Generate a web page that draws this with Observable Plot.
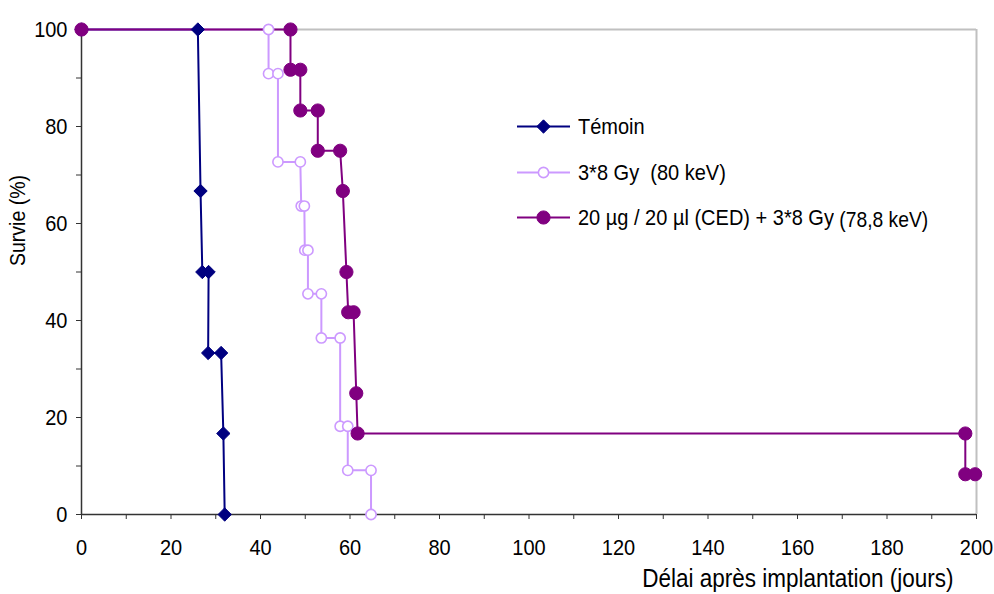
<!DOCTYPE html>
<html>
<head>
<meta charset="utf-8">
<script src="https://cdn.jsdelivr.net/npm/d3@7"></script>
<script src="https://cdn.jsdelivr.net/npm/@observablehq/plot@0.6"></script>
<style>
html, body { margin: 0; padding: 0; background: #fff; }
#wrap { position: relative; width: 994px; height: 594px; font-family: "Liberation Sans", Arial, sans-serif; }
#legend { position: absolute; left: 517px; top: 116px; }
.row { display: flex; align-items: center; height: 21px; margin-bottom: 24.5px; font-size: 20px; color: #000; white-space: pre; }
.row svg { flex: none; margin-right: 8px; }
.row span { display: inline-block; transform: scaleY(1.13); }
.small { font-size: 19.3px; position: relative; top: 2.5px; }
</style>
</head>
<body>
<div id="wrap"><div id="legend"></div></div>
<script>
// ---- data ----
const seriesNames = ["Témoin", "3*8 Gy  (80 keV)", "20 µg / 20 µl (CED) + 3*8 Gy"];
const seriesNameSuffix = ["", "", "(78,8 keV)"];

const temoinDays = [0, 26, 26.6, 27, 28.4, 28.3, 31.2, 31.7, 32];
const temoinSurv = [100, 100, 66.7, 50, 50, 33.3, 33.3, 16.7, 0];

const gyDays = [0, 41.8, 41.8, 43.9, 43.9, 48.9, 49.1, 49.8, 49.9, 50.6, 50.6, 53.6, 53.6, 57.8, 57.8, 59.5, 59.5, 64.7, 64.7];
const gySurv = [100, 100, 90.9, 90.9, 72.7, 72.7, 63.6, 63.6, 54.5, 54.5, 45.5, 45.5, 36.4, 36.4, 18.2, 18.2, 9.1, 9.1, 0];

const cedDays = [0, 46.7, 46.7, 48.9, 48.9, 52.8, 52.8, 57.8, 58.4, 59.2, 59.6, 60.8, 61.4, 61.7, 197.5, 197.5, 199.7];
const cedSurv = [100, 100, 91.7, 91.7, 83.3, 83.3, 75, 75, 66.7, 50, 41.7, 41.7, 25, 16.7, 16.7, 8.3, 8.3];

const xTicks = d3.range(0, 201, 10);
const yTicks = d3.range(0, 101, 10);
const xLabel = "Délai après implantation (jours)";
const yLabel = "Survie (%)";

// ---- styles ----
const colors = ["#000080", "#CC99FF", "#800080"];
const markerStyles = [
  {symbol: "diamond2", r: 6, fill: colors[0], stroke: colors[0], strokeWidth: 1},
  {symbol: "circle", r: 5.1, fill: "white", stroke: colors[1], strokeWidth: 1.6},
  {symbol: "circle", r: 6.6, fill: colors[2], stroke: colors[2], strokeWidth: 1}
];

const toRows = (days, surv) => days.map((d, i) => ({day: d, surv: surv[i]}));
const data = [toRows(temoinDays, temoinSurv), toRows(gyDays, gySurv), toRows(cedDays, cedSurv)];

const font = '"Liberation Sans", Arial, sans-serif';

const chart = Plot.plot({
  width: 994,
  height: 594,
  marginLeft: 81,
  marginRight: 18,
  marginTop: 29,
  marginBottom: 80,
  x: {domain: [0, 200]},
  y: {domain: [0, 100]},
  style: {fontFamily: font, fontSize: "20px", background: "white", overflow: "visible", color: "black"},
  marks: [
    Plot.ruleY([100], {stroke: "#c0c0c0", strokeWidth: 2}),
    Plot.ruleX([200], {stroke: "#c0c0c0", strokeWidth: 2}),
    Plot.axisX({ticks: xTicks, tickSize: 5, tickPadding: 19, tickFormat: d => d % 20 === 0 ? String(d) : "", label: null, stroke: "#333", fill: "black", fontSize: 20}),
    Plot.axisY({ticks: yTicks, tickSize: 5, tickPadding: 9, tickFormat: d => d % 20 === 0 ? String(d) : "", label: null, stroke: "#333", fill: "black", fontSize: 20}),
    Plot.ruleX([0], {stroke: "#333", strokeWidth: 1.5}),
    Plot.ruleY([0], {stroke: "#333", strokeWidth: 1.5}),
    ...data.map((d, i) => Plot.line(d, {x: "day", y: "surv", stroke: colors[i], strokeWidth: 2, curve: "linear"})),
    ...data.map((d, i) => Plot.dot(d, {x: "day", y: "surv", ...markerStyles[i]})),
    Plot.text([xLabel], {text: d => d, frameAnchor: "bottom-right", dx: -23, dy: 72, textAnchor: "end", lineAnchor: "bottom", fontSize: 22.5, fill: "black"}),
    Plot.text([yLabel], {text: d => d, frameAnchor: "left", dx: -64, dy: -6, rotate: -90, fontSize: 19.5, fill: "black"})
  ]
});
document.getElementById("wrap").prepend(chart);

// the reference's lettering is slightly taller than Liberation Sans: stretch glyphs vertically
d3.select(chart).selectAll("text").each(function () {
  const t = this.getAttribute("transform");
  if (t && t.includes("translate")) this.setAttribute("transform", t + " scale(1,1.13)");
});

// ---- legend (inside the plot area) ----
const legend = document.getElementById("legend");
seriesNames.forEach((name, i) => {
  const row = document.createElement("div");
  row.className = "row";
  const ms = markerStyles[i];
  const sym = ms.symbol === "diamond2" ? d3.symbolDiamond2 : d3.symbolCircle;
  const path = d3.symbol(sym, Math.PI * ms.r * ms.r)();
  row.innerHTML =
    `<svg width="53" height="21" viewBox="0 0 53 21">
       <line x1="0" x2="53" y1="10.5" y2="10.5" stroke="${colors[i]}" stroke-width="2"/>
       <path d="${path}" transform="translate(26.5,10.5)" fill="${ms.fill}" stroke="${ms.stroke}" stroke-width="${ms.strokeWidth}"/>
     </svg>`;
  const span = document.createElement("span");
  span.textContent = name;
  row.appendChild(span);
  if (seriesNameSuffix[i]) {
    const s2 = document.createElement("span");
    s2.className = "small";
    s2.textContent = " " + seriesNameSuffix[i];
    row.appendChild(s2);
  }
  legend.appendChild(row);
});
</script>
</body>
</html>
